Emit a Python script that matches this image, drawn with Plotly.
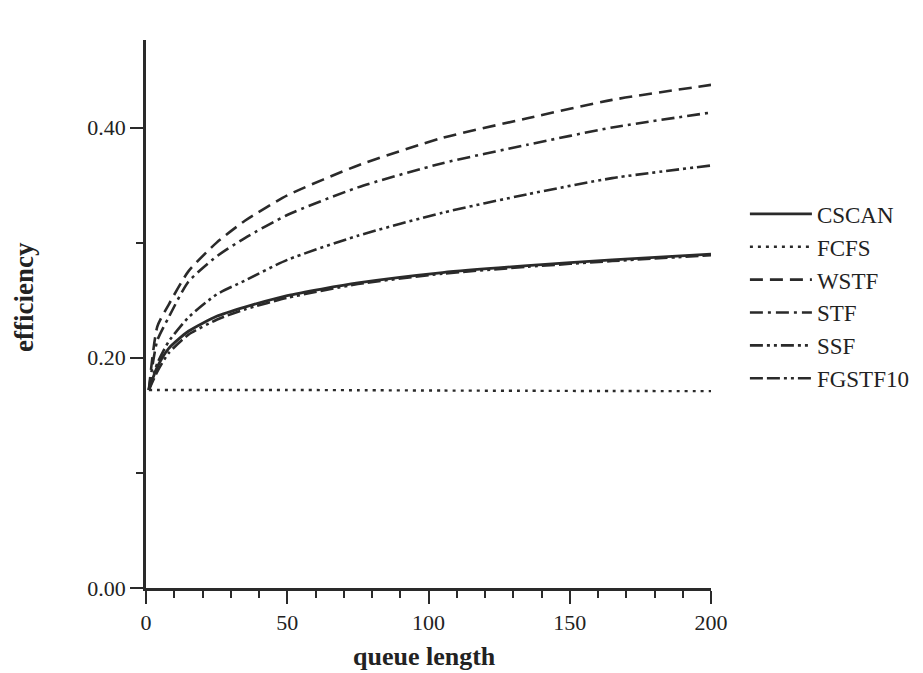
import plotly.graph_objects as go

queue_length = [1, 4, 8, 15, 25, 35, 50, 75, 105, 135, 165, 200]

cscan = [0.172, 0.192, 0.208, 0.223, 0.236, 0.244, 0.254, 0.265, 0.274, 0.280, 0.285, 0.290]
fcfs = [0.172, 0.172, 0.172, 0.172, 0.172, 0.172, 0.172, 0.1718, 0.1715, 0.1713, 0.1711, 0.171]
wstf = [0.172, 0.227, 0.246, 0.275, 0.300, 0.319, 0.341, 0.367, 0.391, 0.408, 0.424, 0.437]
stf = [0.172, 0.215, 0.235, 0.266, 0.288, 0.304, 0.324, 0.348, 0.369, 0.385, 0.400, 0.413]
ssf = [0.172, 0.195, 0.214, 0.235, 0.255, 0.267, 0.285, 0.306, 0.326, 0.342, 0.356, 0.367]
fgstf10 = [0.172, 0.188, 0.204, 0.220, 0.233, 0.242, 0.252, 0.264, 0.273, 0.279, 0.284, 0.289]

series_names = ["CSCAN", "FCFS", "WSTF", "STF", "SSF", "FGSTF10"]
series_values = [cscan, fcfs, wstf, stf, ssf, fgstf10]
dashes = [
    "solid",
    "3px,5px",
    "13px,7px",
    "13px,5px,3px,5px",
    "13px,4px,3px,4px,3px,4px",
    "13px,4px,13px,4px,3px,4px,3px,4px",
]
widths = [2.8, 2.4, 2.6, 2.6, 2.6, 2.6]

LINE = "#2a2a2a"
FONT = "Liberation Serif"

fig = go.Figure()
for name, vals, dash, w in zip(series_names, series_values, dashes, widths):
    fig.add_trace(go.Scatter(
        x=queue_length, y=vals, name=name, mode="lines",
        line=dict(color=LINE, width=w, dash=dash, shape="spline", smoothing=0.6),
        legendgroup=name,
    ))

fig.update_layout(
    width=923, height=673,
    margin=dict(l=146, r=212, t=40, b=85, autoexpand=False),
    paper_bgcolor="white", plot_bgcolor="white",
    font=dict(family=FONT, size=22, color="#222"),
    showlegend=True,
    legend=dict(
        x=1.06, xanchor="left", y=0.722, yanchor="top",
        font=dict(family=FONT, size=23, color="#222"),
        itemwidth=62, tracegroupgap=0, bgcolor="rgba(0,0,0,0)",
    ),
    xaxis=dict(
        range=[0, 200], tickvals=[0, 50, 100, 150, 200],
        ticks="outside", ticklen=13, tickwidth=2, tickcolor=LINE,
        minor=dict(dtick=10, ticklen=7, tickwidth=2, tickcolor=LINE, ticks="outside"),
        showline=True, linecolor=LINE, linewidth=2.5,
        showgrid=False, zeroline=False,
        tickfont=dict(family=FONT, size=22, color="#222"),
    ),
    yaxis=dict(
        range=[0, 0.476], tickvals=[0, 0.2, 0.4], tickformat=".2f",
        ticks="outside", ticklen=13, tickwidth=2, tickcolor=LINE,
        minor=dict(tickvals=[0.1, 0.3], ticklen=7, tickwidth=2, tickcolor=LINE, ticks="outside"),
        showline=True, linecolor=LINE, linewidth=2.5,
        showgrid=False, zeroline=False,
        tickfont=dict(family=FONT, size=22, color="#222"),
    ),
    annotations=[
        dict(text="<b>queue length</b>", xref="paper", yref="paper",
             x=(424 - 146) / 565, y=-(656 - 588) / 548, xanchor="center", yanchor="middle",
             showarrow=False, font=dict(family=FONT, size=26, color="#222")),
        dict(text="<b>efficiency</b>", xref="paper", yref="paper", textangle=-90,
             x=-(146 - 24) / 565, y=(588 - 297) / 548, xanchor="center", yanchor="middle",
             showarrow=False, font=dict(family=FONT, size=27, color="#222")),
    ],
)

fig.write_html("out.html")
